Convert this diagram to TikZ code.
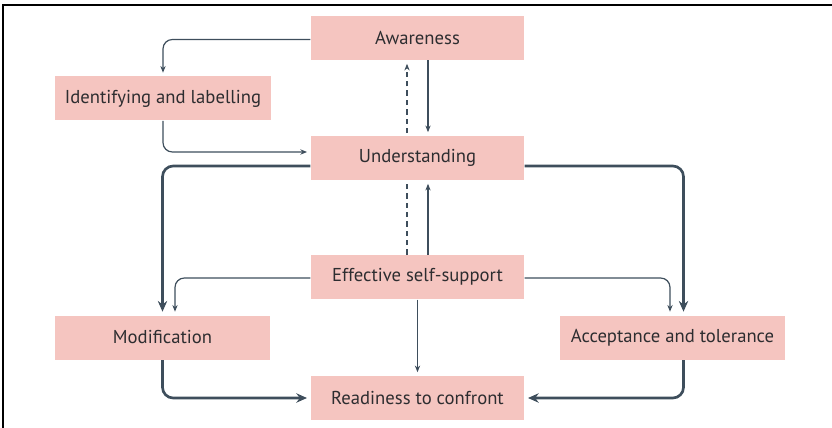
\documentclass[tikz,border=0pt]{standalone}
\usepackage{fontspec}
\setmainfont{PT Sans}
\usepackage{tikz}
\usetikzlibrary{arrows.meta,calc,backgrounds}
\definecolor{boxpink}{RGB}{245,197,192}
\definecolor{linkgrey}{RGB}{62,78,92}
\definecolor{labelgrey}{RGB}{45,45,48}
\tikzset{every picture/.style={line width=0.75pt}}
\tikzset{
	stage/.style={fill=boxpink, draw=none, text=labelgrey, inner sep=0pt,
		minimum width=160pt, minimum height=33pt, font=\fontsize{14}{16}\selectfont},
	thinlink/.style={draw=linkgrey, line width=0.9pt, rounded corners=7pt,
		-{Stealth[length=5pt,width=4pt]}, shorten >=2.5pt},
	thicklink/.style={draw=linkgrey, line width=2pt, rounded corners=8pt,
		-{Stealth[length=8pt,width=7pt]}, shorten >=2.5pt},
}

\begin{document}
\begin{tikzpicture}[x=0.75pt,y=0.75pt,yscale=-1,xscale=1]
	\useasboundingbox (0,0) rectangle (832,428);
	%Frame
	\draw [line width=1.2pt] (3,428) -- (3,5) -- (832,5) ;
	
	%Stages
	\node [stage] (aware) at (417.5,38) {Awareness};
	\node [stage, minimum width=162pt] (ident) at (163,98.5) {Identifying and labelling};
	\node [stage] (under) at (417.5,158) {Understanding};
	\node [stage] (effect) at (417.5,277) {Effective self-support};
	\node [stage, minimum width=161pt] (modif) at (162.5,337.5) {Modification};
	\node [stage, minimum width=169pt] (accept) at (672.5,337.5) {Acceptance and tolerance};
	\node [stage] (ready) at (417.5,398) {Readiness to confront};
	
	%Dashed return, runs behind Understanding
	\begin{scope}[on background layer]
		\draw [thinlink, dash pattern=on 4pt off 3pt] ($(effect.north)+(-10.5,0)$) -- ($(aware.south)+(-10.5,0)$) ;
	\end{scope}
	
	%Thin links
	\draw [thinlink] ($(aware.west)+(0,1.5)$) -| (ident.north) ;
	\draw [thinlink] (ident.south) |- ($(under.west)+(0,-6)$) ;
	\draw [thinlink] ($(aware.south)+(10.5,0)$) -- ($(under.north)+(10.5,0)$) ;
	\draw [thinlink] ($(effect.north)+(10.5,0)$) -- ($(under.south)+(10.5,0)$) ;
	\draw [thinlink] ($(effect.west)+(0,1)$) -| ($(modif.north)+(12.5,0)$) ;
	\draw [thinlink] ($(effect.east)+(0,1)$) -| ($(accept.north)+(-2.5,0)$) ;
	\draw [thinlink] (effect.south) -- (ready.north) ;
	
	%Thick links
	\draw [thicklink] ($(under.west)+(0,8)$) -| (modif.north) ;
	\draw [thicklink] ($(under.east)+(0,8)$) -| ($(accept.north)+(11,0)$) ;
	\draw [thicklink] (modif.south) |- (ready.west) ;
	\draw [thicklink] ($(accept.south)+(11,0)$) |- (ready.east) ;
	
\end{tikzpicture}
\end{document}
